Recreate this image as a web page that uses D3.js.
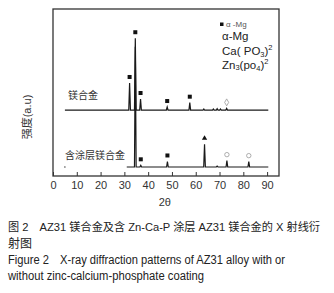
<!DOCTYPE html>
<html>
<head>
<meta charset="utf-8">
<script src="https://cdn.jsdelivr.net/npm/d3@7"></script>
<style>
body { margin: 0; background: #fff; }
text { font-family: "Liberation Sans", Arial, "Noto Sans CJK SC", sans-serif; }
</style>
</head>
<body>
<div id="chart"></div>
<script>
// ---------- data ----------
var ticks2theta = [0, 10, 20, 30, 40, 50, 60, 70, 80, 90];

var alloyRange = [5, 90.5],
    alloyPos   = [32.2, 34.6, 36.8, 48.0, 57.5, 63.4, 67.4, 69.0, 70.4, 73.0],
    alloyInt   = [16.2, 43.0, 6.6, 1.8, 4.4, 0.6, 0.6, 0.8, 0.6, 1.0],
    alloyMark  = ["sq", "sq", "sq", "sq", "sq", "", "", "", "", "dia"];

var coatRange = [31, 90.5],
    coatPos   = [34.6, 36.9, 48.1, 63.7, 69.0, 73.1, 82.3],
    coatInt   = [72.0, 1.0, 3.3, 13.6, 0.5, 3.8, 3.2],
    coatMark  = ["", "sq", "sq", "tri", "", "circ", "circ"];

var legendLines = ["α-Mg", "Ca(PO3)2", "Zn3(po4)2"];

// ---------- setup ----------
var W = 334, H = 293;
var box = {left: 53, right: 279, top: 9, bottom: 176};

var svg = d3.select("#chart").append("svg")
  .attr("width", W).attr("height", H);

var x = d3.scaleLinear().domain([0, 95]).range([box.left, box.right]);
var y = d3.scaleLinear().domain([0, 100]).range([box.bottom, box.top]);

var alloyBase = 39.5, coatBase = 5.4, halfW = 0.35;

function pattern(range, pos, inten, base) {
  var pts = [[range[0], base]];
  pos.forEach(function(p, i) {
    pts.push([p - halfW, base], [p, base + inten[i]], [p + halfW, base]);
  });
  pts.push([range[1], base]);
  return pts;
}

var line = d3.line()
  .x(function(d) { return x(d[0]); })
  .y(function(d) { return y(d[1]); });

// frame
svg.append("rect")
  .attr("x", box.left).attr("y", box.top)
  .attr("width", box.right - box.left).attr("height", box.bottom - box.top)
  .attr("fill", "none").attr("stroke", "#333").attr("stroke-width", 1.3);

// x axis
var xAxis = svg.append("g")
  .attr("transform", "translate(0," + box.bottom + ")")
  .call(d3.axisBottom(x).tickValues(ticks2theta).tickSizeInner(-4).tickSizeOuter(0).tickPadding(5));
xAxis.select(".domain").remove();
xAxis.selectAll("line").attr("stroke", "#333");
xAxis.selectAll("text").attr("font-size", 11).attr("fill", "#333");

svg.append("text")
  .attr("x", x(47)).attr("y", 206)
  .attr("text-anchor", "middle").attr("font-size", 11).attr("fill", "#333")
  .text("2θ");

svg.append("text")
  .attr("transform", "translate(31," + 117 + ") rotate(-90)")
  .attr("text-anchor", "middle").attr("font-size", 11).attr("fill", "#333")
  .text("强度(a.u)");

// patterns
[[alloyRange, alloyPos, alloyInt, alloyBase], [coatRange, coatPos, coatInt, coatBase]].forEach(function(s) {
  svg.append("path")
    .datum(pattern(s[0], s[1], s[2], s[3]))
    .attr("d", line)
    .attr("fill", "none").attr("stroke", "#1a1a1a").attr("stroke-width", 1.2);
});

// stray point at the start of the coated trace
svg.append("circle")
  .attr("cx", x(5)).attr("cy", y(coatBase)).attr("r", 0.7).attr("fill", "#333");

// peak markers
function markers(pos, inten, mark, base) {
  pos.forEach(function(p, i) {
    var cx = x(p), cy = y(base + inten[i]) - 6;
    if (mark[i] == "sq") {
      svg.append("rect").attr("x", cx - 2).attr("y", cy - 2).attr("width", 4).attr("height", 4).attr("fill", "#111");
    } else if (mark[i] == "dia") {
      svg.append("path").attr("d", d3.symbol(d3.symbolDiamond, 14)()).attr("transform", "translate(" + cx + "," + cy + ")")
        .attr("fill", "none").attr("stroke", "#999").attr("stroke-width", 0.8);
    } else if (mark[i] == "tri") {
      svg.append("path").attr("d", d3.symbol(d3.symbolTriangle, 12)()).attr("transform", "translate(" + cx + "," + cy + ")")
        .attr("fill", "#111");
    } else if (mark[i] == "circ") {
      svg.append("circle").attr("cx", cx).attr("cy", cy).attr("r", 2.2)
        .attr("fill", "none").attr("stroke", "#999").attr("stroke-width", 0.8);
    }
  });
}
markers(alloyPos, alloyInt, alloyMark, alloyBase);
markers(coatPos, coatInt, coatMark, coatBase);

// trace labels
svg.append("text").attr("x", 68).attr("y", 99).attr("font-size", 10).attr("fill", "#333").text("镁合金");
svg.append("text").attr("x", 65).attr("y", 159).attr("font-size", 10).attr("fill", "#333").text("含涂层镁合金");

// legend
var lg = svg.append("g").attr("fill", "#222");
lg.append("rect").attr("x", 220).attr("y", 22.5).attr("width", 3.5).attr("height", 3.5).attr("fill", "#111");
lg.append("text").attr("x", 226).attr("y", 27).attr("font-size", 8).attr("fill", "#555").text("α -Mg");

var ly = [40, 55, 69];
lg.append("text").attr("x", 222).attr("y", ly[0]).attr("font-size", 11.5).text(legendLines[0]);
var t1 = lg.append("text").attr("x", 222).attr("y", ly[1]).attr("font-size", 11.5);
t1.append("tspan").text("Ca( PO");
t1.append("tspan").attr("font-size", 7.5).attr("dy", 2).text("3");
t1.append("tspan").attr("dy", -2).text(")");
t1.append("tspan").attr("font-size", 7.5).attr("dy", -5).text("2");
var t2 = lg.append("text").attr("x", 222).attr("y", ly[2]).attr("font-size", 11.5);
t2.append("tspan").text("Zn");
t2.append("tspan").attr("font-size", 7.5).attr("dy", 1).text("3");
t2.append("tspan").attr("dy", -1).text("(po");
t2.append("tspan").attr("font-size", 7.5).attr("dy", 2).text("4");
t2.append("tspan").attr("dy", -2).text(")");
t2.append("tspan").attr("font-size", 7.5).attr("dy", -5).text("2");

// caption
var caption = [
  {t: "图 2　AZ31 镁合金及含 Zn-Ca-P 涂层 AZ31 镁合金的 X 射线衍", y: 231, w: 312, s: 11.2},
  {t: "射图", y: 248, w: null, s: 12},
  {t: "Figure 2　X-ray diffraction patterns of AZ31 alloy with or", y: 264, w: 277, s: 12},
  {t: "without zinc-calcium-phosphate coating", y: 280, w: 196, s: 12}
];
caption.forEach(function(c) {
  var tx = svg.append("text").attr("x", 8).attr("y", c.y).attr("font-size", c.s).attr("fill", "#222").text(c.t);
  if (c.w) tx.attr("textLength", c.w).attr("lengthAdjust", "spacingAndGlyphs");
});
</script>
</body>
</html>
